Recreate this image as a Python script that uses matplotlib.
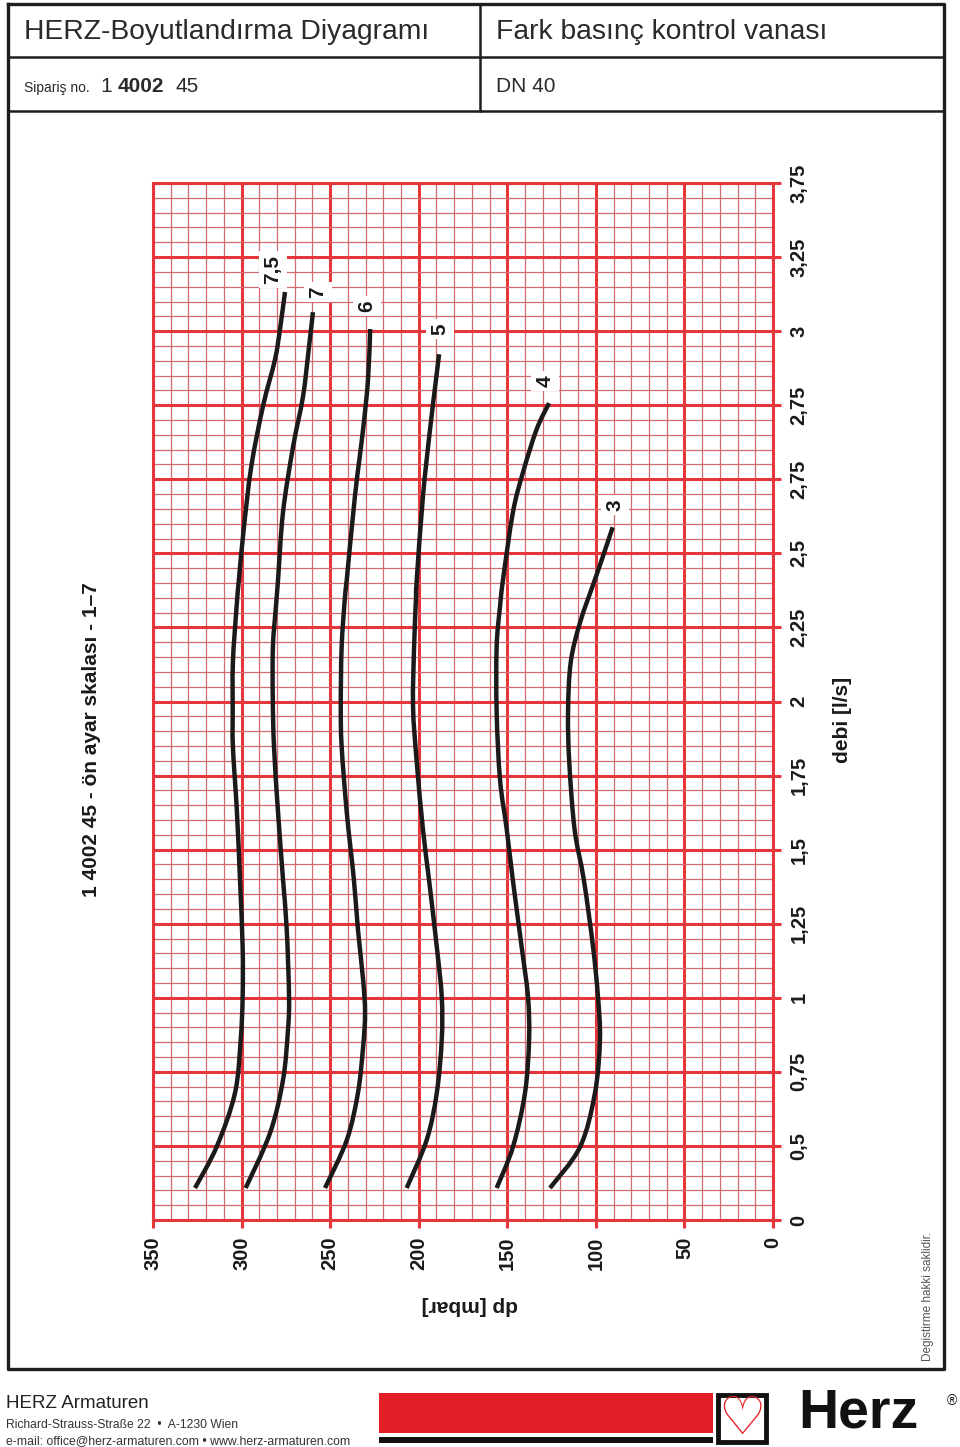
import numpy as np
import matplotlib
matplotlib.use("Agg")
from matplotlib import pyplot as plt
from matplotlib.patches import Rectangle, PathPatch
from matplotlib.path import Path

plt.rcParams['font.family'] = ['Liberation Sans', 'DejaVu Sans']

# axis ticks as printed on the sheet
dp_ticks = [0, 50, 100, 150, 200, 250, 300, 350]
flow_pos = [0, 0.25, 0.5, 0.75, 1.0, 1.25, 1.5, 1.75, 2.0, 2.25, 2.5, 2.75, 3.0, 3.25, 3.5]
flow_labels = ['0', '0,5', '0,75', '1', '1,25', '1,5', '1,75', '2', '2,25', '2,5',
               '2,75', '2,75', '3', '3,25', '3,75']

# presetting curves: dp [mbar] vs flow position
dp_75 = [326.3, 314.0, 303.7, 300.5, 299.4, 299.4, 300.9, 302.6, 304.9, 305.0, 304.9, 302.8,
         301.5, 298.8, 294.5, 287.9, 281.1, 278.3, 275.5]
q_75 = [0.108, 0.248, 0.429, 0.608, 0.753, 0.922, 1.149, 1.375, 1.598, 1.713, 1.882, 2.071,
        2.162, 2.331, 2.544, 2.747, 2.905, 3.007, 3.132]

dp_7 = [297.7, 283.9, 276.6, 273.8, 273.2, 274.5, 276.6, 279.4, 281.7, 282.4, 282.3, 280.6,
        279.4, 276.6, 270.9, 265.3, 261.9, 259.7]
q_7 = [0.108, 0.294, 0.473, 0.642, 0.753, 0.980, 1.149, 1.375, 1.598, 1.767, 1.936, 2.071,
       2.162, 2.389, 2.611, 2.780, 2.949, 3.064]

dp_6 = [252.9, 240.6, 234.3, 231.4, 230.3, 231.4, 234.3, 236.6, 240.6, 243.5, 244.0, 243.5,
        241.6, 240.6, 236.0, 231.4, 228.6, 227.4]
q_6 = [0.108, 0.270, 0.429, 0.584, 0.699, 0.811, 0.980, 1.149, 1.375, 1.598, 1.733, 1.936,
       2.105, 2.162, 2.443, 2.669, 2.838, 3.007]

dp_5 = [206.8, 195.5, 189.8, 187.0, 187.0, 189.8, 194.2, 197.6, 201.1, 203.2, 202.6, 201.5,
        201.1, 197.6, 193.6, 190.2, 188.5]
q_5 = [0.108, 0.270, 0.429, 0.608, 0.753, 0.922, 1.149, 1.318, 1.544, 1.733, 1.936, 2.105,
       2.162, 2.443, 2.669, 2.838, 2.922]

dp_4 = [156.0, 146.8, 140.0, 137.7, 138.3, 141.9, 146.9, 150.3, 154.1, 156.0, 156.0, 154.1,
        152.4, 146.8, 141.1, 133.4, 126.4]
q_4 = [0.108, 0.247, 0.429, 0.608, 0.753, 0.922, 1.149, 1.318, 1.486, 1.713, 1.936, 2.071,
       2.162, 2.389, 2.524, 2.669, 2.757]

dp_3 = [125.9, 108.9, 100.5, 97.7, 98.8, 101.6, 106.8, 112.0, 115.0, 115.7, 114.2, 108.9,
        100.5, 96.0, 90.5]
q_3 = [0.108, 0.247, 0.429, 0.608, 0.753, 0.922, 1.149, 1.318, 1.544, 1.713, 1.882, 2.017,
       2.162, 2.240, 2.338]

curve_names = ['7,5', '7', '6', '5', '4', '3']
label_dp = [282.3, 256.8, 229.2, 188.0, 128.7, 89.2]
label_q = [3.209, 3.132, 3.084, 3.007, 2.831, 2.412]

RED = '#e5363c'
RED_MINOR = '#d66a70'
INK = '#1a1a1a'


def smooth_path(xs, ys):
    # bezier path through the read points (catmull-rom style handles)
    pts = np.column_stack([xs, ys])
    ext = np.vstack([pts[0], pts, pts[-1]])
    verts = [pts[0]]
    codes = [Path.MOVETO]
    for i in range(1, len(ext) - 2):
        p0, p1, p2, p3 = ext[i - 1], ext[i], ext[i + 1], ext[i + 2]
        verts += [p1 + (p2 - p0) / 6.0, p2 - (p3 - p1) / 6.0, p2]
        codes += [Path.CURVE4] * 3
    return Path(verts, codes)


fig = plt.figure(figsize=(9.6, 14.47), dpi=100)

# page furniture drawn in pixel coordinates
bg = fig.add_axes([0, 0, 1, 1])
bg.set_xlim(0, 960)
bg.set_ylim(1447, 0)
bg.axis('off')
frame = '#1e1e1e'
bg.plot([8, 944, 944, 8, 8], [4, 4, 1369, 1369, 4], color=frame, lw=2.4)
bg.plot([8, 944], [57, 57], color=frame, lw=1.8)
bg.plot([8, 944], [111, 111], color=frame, lw=1.8)
bg.plot([480, 480], [4, 111], color=frame, lw=1.8)

bg.text(24, 32, 'HERZ-Boyutlandırma Diyagramı', fontsize=20.3, va='center', color='#2a2a2a')
bg.text(496, 32, 'Fark basınç kontrol vanası', fontsize=20.3, va='center', color='#2a2a2a')
bg.text(24, 88, 'Sipariş no.', fontsize=10, va='center', color='#2a2a2a')
bg.text(100, 86, '1', fontsize=15, va='center', color='#2a2a2a')
bg.text(118, 86, '4002', fontsize=15, va='center', fontweight='bold', color='#2a2a2a')
bg.text(175, 86, '45', fontsize=15, va='center', color='#2a2a2a')
bg.text(496, 86, 'DN 40', fontsize=15, va='center', color='#2a2a2a')

bg.text(92, 740, '1 4002 45 - ön ayar skalası - 1–7', rotation=90, fontsize=15,
        fontweight='bold', ha='center', va='center', color=INK)
bg.text(470, 1305, 'dp [mbar]', rotation=180, fontsize=15, fontweight='bold',
        ha='center', va='center', color=INK)
bg.text(843, 720, 'debi [l/s]', rotation=90, fontsize=15, fontweight='bold',
        ha='center', va='center', color=INK)
bg.text(928, 1296, 'Degistirme hakki saklidir.', rotation=90, fontsize=8.5,
        ha='center', va='center', color='#555')

# footer
bg.text(6, 1403, 'HERZ Armaturen', fontsize=13.5, va='center', color='#222')
bg.text(6, 1425, 'Richard-Strauss-Straße 22  •  A-1230 Wien', fontsize=8.7, va='center',
        color='#333')
bg.text(6, 1441, 'e-mail: office@herz-armaturen.com • www.herz-armaturen.com', fontsize=8.8,
        va='center', color='#333')
bg.add_patch(Rectangle((379, 1393), 334, 40, color='#e41e26', lw=0))
bg.add_patch(Rectangle((379, 1437), 334, 6, color='#111', lw=0))
bg.add_patch(Rectangle((718, 1395), 48, 47, facecolor='white', edgecolor='#111', lw=3.5))
bg.text(742, 1419, '♡', fontsize=38, color='#e41e26', ha='center', va='center',
        family=['DejaVu Sans'])
bg.text(858, 1414, 'Herz', fontsize=40, fontweight='bold', ha='center', va='center',
        color='#111')
bg.text(952, 1401, '®', fontsize=10, ha='center', va='center', color='#111')

# chart
ax = fig.add_axes([153 / 960, 1 - 1220 / 1447, 620 / 960, 1037 / 1447])
ax.set_xlim(350, 0)
ax.set_ylim(0, 3.5)
ax.set_xticks(dp_ticks)
ax.set_xticklabels([str(v) for v in dp_ticks])
ax.set_xticks(np.arange(0, 351, 10), minor=True)
ax.yaxis.tick_right()
ax.set_yticks(flow_pos)
ax.set_yticklabels(flow_labels)
ax.set_yticks(np.arange(0, 3.501, 0.05), minor=True)
ax.set_axisbelow(True)
ax.grid(which='minor', color=RED_MINOR, lw=0.9)
ax.grid(which='major', color=RED, lw=2.2)
ax.tick_params(which='minor', length=0)
ax.tick_params(which='major', length=6, width=2.2, color=RED, direction='out',
               labelsize=14.5, labelcolor=INK, pad=6)
ax.tick_params(axis='both', labelrotation=90)
for lab in ax.get_xticklabels():
    lab.set_fontweight('bold')
for lab in ax.get_yticklabels():
    lab.set_fontweight('bold')
    lab.set_verticalalignment('center')
for s in ax.spines.values():
    s.set_color(RED)
    s.set_linewidth(2.2)

curves_dp = [dp_75, dp_7, dp_6, dp_5, dp_4, dp_3]
curves_q = [q_75, q_7, q_6, q_5, q_4, q_3]
for d, q in zip(curves_dp, curves_q):
    ax.add_patch(PathPatch(smooth_path(d, q), facecolor='none', edgecolor=INK, lw=3.2,
                           capstyle='butt', zorder=3))

for name, d, q in zip(curve_names, label_dp, label_q):
    ax.text(d, q, name, rotation=90, fontsize=15, fontweight='bold', ha='center',
            va='center', color=INK, zorder=4,
            bbox=dict(facecolor='white', edgecolor='none', pad=3))

plt.savefig('out.png', dpi=100)
